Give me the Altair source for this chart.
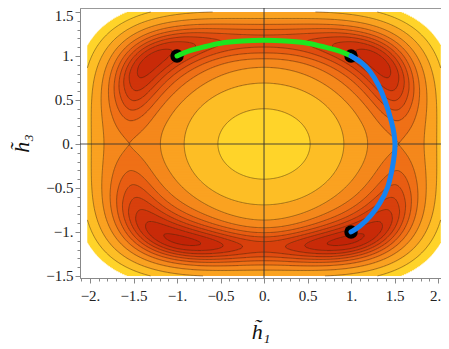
import numpy as np
import pandas as pd
import altair as alt

# ---- values ----
ring_axes = [1.55, 1.17]          # saddle positions on the h1 and h3 axes
x_extent = [-2.03, 2.03]          # coloured region
y_extent = [-1.5, 1.5]
frame_x = [-2.115, 2.034]
frame_y = [-1.523, 1.545]

min_x = [-1.0, 1.0, 1.0]
min_y = [1.0, 1.0, -1.0]

green_x = [-1.0, -0.85, -0.7, -0.5, -0.25, 0.0, 0.25, 0.5, 0.7, 0.85, 1.0]
green_y = [1.0, 1.06, 1.10, 1.145, 1.17, 1.178, 1.17, 1.145, 1.10, 1.06, 1.0]

blue_x = [1.0, 1.12, 1.22, 1.32, 1.39, 1.47, 1.52, 1.48, 1.43, 1.33, 1.22, 1.1, 1.0]
blue_y = [1.0, 0.93, 0.83, 0.67, 0.5, 0.25, 0.0, -0.25, -0.5, -0.68, -0.83, -0.94, -1.0]

x_tick_vals = [round(v / 10, 1) for v in range(-21, 21)]
y_tick_vals = [round(v / 10, 1) for v in range(-15, 16)]

band_colors = ["#FFD42A", "#FDBE26", "#FAA221", "#F5881C", "#EF7017", "#E85D13",
               "#E04D10", "#D8400D", "#D0340B", "#C92B09", "#C22407", "#BB2006"]


def field(x, y):
    u = x / ring_axes[0]
    v = y / ring_axes[1]
    r = np.hypot(u, v)
    q = 2 + 1.6 * np.clip((r - 0.75) / 0.45, 0, 1)
    rho = (np.abs(u) ** q + np.abs(v) ** q) ** (1 / q)
    th = np.arctan2(v, u)
    p = 1.55 + 2.8 * np.exp(-(rho / 0.3) ** 2)
    P = 4 * (1 - np.abs(rho ** 2 - 1) ** p)
    even = 3.5 - 1.5 * np.cos(2 * th) - 2 * np.cos(4 * th)
    s = np.sin(th)
    s2 = np.sin(2 * th)
    odd = s * (-0.5 * s ** 2 + 0.25 * s2 ** 2) + 2.6 * s * s2 ** 2 * np.cos(2 * th)
    G = np.exp(-((rho - 1) / 0.15) ** 2)
    return P + (even + odd) * G


# ---- filled bands (row runs) ----
dy = 1 / 88
rows = []
xf = np.linspace(x_extent[0], x_extent[1], 1400)
step = xf[1] - xf[0]
for yc in np.arange(y_extent[0] + dy / 2, y_extent[1], dy):
    F = field(xf, np.full_like(xf, yc))
    band = np.where(F < 0, -1, np.floor(F)).astype(int)
    band = np.minimum(band, len(band_colors) - 1)
    change = np.nonzero(np.diff(band))[0]
    starts = np.concatenate([[0], change + 1])
    ends = np.concatenate([change, [len(xf) - 1]])
    y0 = max(y_extent[0], yc - dy * 0.8)
    y1 = min(y_extent[1], yc + dy * 0.8)
    for s_, e_ in zip(starts, ends):
        b = band[s_]
        if b < 0:
            continue
        xa = xf[s_] - (step / 2 if s_ > 0 else 0)
        xb = xf[e_] + (step / 2 + 0.004 if e_ < len(xf) - 1 else 0)
        rows.append((round(xa, 4), round(xb, 4), round(y0, 4), round(y1, 4), int(b)))
fill_df = pd.DataFrame(rows, columns=["x", "x2", "y", "y2", "band"])

# ---- contour lines (marching squares) ----
gx = np.linspace(x_extent[0], x_extent[1], 261)
gy = np.linspace(y_extent[0], y_extent[1], 193)
GX, GY = np.meshgrid(gx, gy)
Z = field(GX, GY)


def contour_segments(level):
    a = Z[:-1, :-1]; b = Z[:-1, 1:]; c = Z[1:, 1:]; d = Z[1:, :-1]
    X0 = gx[:-1][None, :]; X1 = gx[1:][None, :]
    Y0 = gy[:-1][:, None]; Y1 = gy[1:][:, None]
    sh = a.shape
    with np.errstate(divide="ignore", invalid="ignore"):
        mb = (a > level) != (b > level); tb = (level - a) / (b - a)
        mr = (b > level) != (c > level); tr = (level - b) / (c - b)
        mt = (d > level) != (c > level); tt = (level - d) / (c - d)
        ml = (a > level) != (d > level); tl = (level - a) / (d - a)
    PX = np.stack([X0 + tb * (X1 - X0), np.broadcast_to(X1, sh), X0 + tt * (X1 - X0), np.broadcast_to(X0, sh)])
    PY = np.stack([np.broadcast_to(Y0, sh), Y0 + tr * (Y1 - Y0), np.broadcast_to(Y1, sh), Y0 + tl * (Y1 - Y0)])
    M = np.stack([mb, mr, mt, ml])
    cnt = M.sum(0)
    out = []
    idx = np.argsort(~M, axis=0, kind="stable")
    sel = cnt == 2
    i0 = idx[0][sel]; i1 = idx[1][sel]
    px = PX[:, sel]; py = PY[:, sel]
    n = np.arange(sel.sum())
    out.append(np.column_stack([px[i0, n], py[i0, n], px[i1, n], py[i1, n]]))
    sel4 = cnt == 4
    if sel4.any():
        px = PX[:, sel4]; py = PY[:, sel4]
        out.append(np.column_stack([px[0], py[0], px[1], py[1]]))
        out.append(np.column_stack([px[2], py[2], px[3], py[3]]))
    return np.vstack(out)


segs = [contour_segments(L) for L in range(1, int(np.floor(Z.max())) + 1)]
seg = np.round(np.vstack(segs), 4)
seg_df = pd.DataFrame(seg, columns=["x", "y", "x2", "y2"])

pts_df = pd.DataFrame({"x": min_x, "y": min_y})
green_df = pd.DataFrame({"x": green_x, "y": green_y, "o": range(len(green_x))})
blue_df = pd.DataFrame({"x": blue_x, "y": blue_y, "o": range(len(blue_x))})

# ---- axes ----
cond = "abs(datum.value*2 - round(datum.value*2)) < 0.001"
lab = (f"{cond} ? (abs(datum.value - round(datum.value)) < 0.001 ? "
       "format(datum.value, '.0f') + '.' : format(datum.value, '.1f')) : ''")


def make_axis(values, title, **kw):
    return alt.Axis(values=values, labelExpr=lab,
                    tickSize={"condition": {"test": cond, "value": 5}, "value": 3},
                    title=title, labelFont="Liberation Serif", labelFontSize=15,
                    labelColor="#222", tickColor="#888", domainColor="#888",
                    grid=False, labelOverlap=False, labelFlush=False,
                    titleFont="Liberation Serif", titleFontSize=22,
                    titleFontStyle="italic", titleFontWeight="normal",
                    titleColor="#111", **kw)


xs = alt.Scale(domain=frame_x, nice=False, zero=False)
ys = alt.Scale(domain=frame_y, nice=False, zero=False)
xax = make_axis(x_tick_vals, "h\u0303\u2081", labelPadding=5, titlePadding=18,
                labelOffset={"condition": {"test": "datum.value > 1.95", "value": -3}, "value": 0})
yax = make_axis(y_tick_vals, "h\u0303\u2083", labelPadding=2, titlePadding=12,
                labelOffset={"condition": {"test": "datum.value > 1.45", "value": 4}, "value": 0})


def X(f="x"):
    return alt.X(f"{f}:Q", scale=xs, axis=xax)


def Y(f="y"):
    return alt.Y(f"{f}:Q", scale=ys, axis=yax)


fill = alt.Chart(fill_df).mark_rect(strokeWidth=0).encode(
    x=X(), x2="x2:Q", y=Y(), y2="y2:Q",
    color=alt.Color("band:O", scale=alt.Scale(domain=list(range(len(band_colors))), range=band_colors), legend=None),
)
lines = alt.Chart(seg_df).mark_rule(color="#3a2208", strokeWidth=0.75, opacity=0.6).encode(
    x=X(), y=Y(), x2="x2:Q", y2="y2:Q"
)
vaxis = alt.Chart(pd.DataFrame({"x": [0.0]})).mark_rule(color="#333", strokeWidth=1.1, opacity=0.85).encode(x=X())
haxis = alt.Chart(pd.DataFrame({"y": [0.0]})).mark_rule(color="#333", strokeWidth=1.1, opacity=0.85).encode(y=Y())
points = alt.Chart(pts_df).mark_circle(size=180, color="black", opacity=1).encode(x=X(), y=Y())
green = alt.Chart(green_df).mark_line(color="#1EE61E", strokeWidth=5, strokeCap="round", interpolate="monotone").encode(
    x=X(), y=Y(), order="o:Q")
blue = alt.Chart(blue_df).mark_line(color="#1583F2", strokeWidth=5, strokeCap="round", interpolate="basis").encode(
    x=X(), y=Y(), order="o:Q")

chart = alt.layer(fill, lines, vaxis, haxis, points, green, blue).properties(
    width=361, height=270,
    autosize=alt.AutoSizeParams(type="none"),
    padding={"left": 72, "top": 0, "right": 0, "bottom": 71},
).configure_view(stroke="#999", strokeWidth=1)

chart.save("out.html", embed_options={"renderer": "svg", "actions": False})
